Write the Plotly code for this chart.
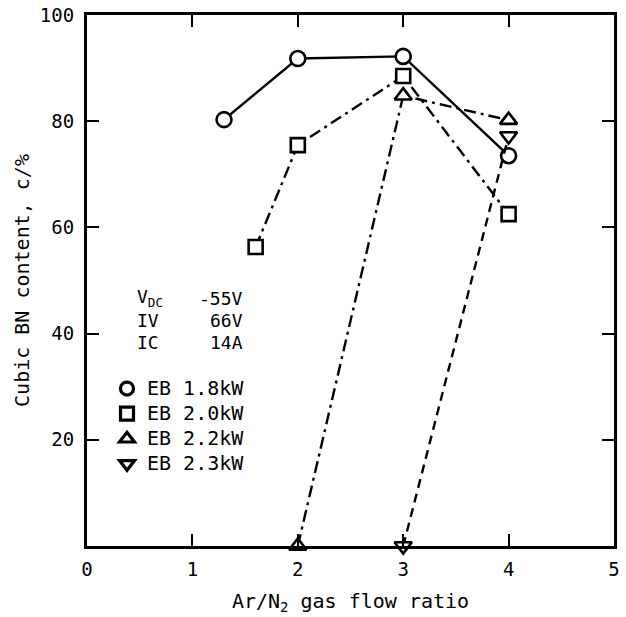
import plotly.graph_objects as go

# Ar/N2 gas flow ratio vs. cubic BN content for four electron-beam powers
ratio_18 = [1.3, 2, 3, 4]
cbn_18 = [80.3, 91.8, 92.2, 73.5]

ratio_20 = [1.6, 2, 3, 4]
cbn_20 = [56.3, 75.5, 88.5, 62.5]

ratio_22 = [2, 3, 4]
cbn_22 = [0, 84.8, 80.2]

ratio_23 = [3, 4]
cbn_23 = [0, 77.2]

series_names = ["EB 1.8kW", "EB 2.0kW", "EB 2.2kW", "EB 2.3kW"]
x_ticks = [0, 1, 2, 3, 4, 5]
y_ticks = [20, 40, 60, 80, 100]

FONT = "DejaVu Sans Mono"
BLACK = "black"

series = [
    (ratio_18, cbn_18, "circle", 15, "solid"),
    (ratio_20, cbn_20, "square", 14, "12px,5px,3px,5px"),
    (ratio_22, cbn_22, "triangle-up", 15, "12px,5px,3px,5px"),
    (ratio_23, cbn_23, "triangle-down", 15, "9px,6px"),
]

fig = go.Figure()
for (xs, ys, sym, size, dash), name in zip(series, series_names):
    fig.add_trace(go.Scatter(
        x=xs, y=ys, mode="lines+markers", showlegend=False,
        line=dict(color=BLACK, width=2.4, dash=dash),
        marker=dict(symbol=sym, size=size, color="white",
                    line=dict(color=BLACK, width=2.6)),
        cliponaxis=False,
    ))

# marker-only entries for the legend
for (xs, ys, sym, size, dash), name in zip(series, series_names):
    fig.add_trace(go.Scatter(
        x=[None], y=[None], mode="markers",
        name='<span style="font-size:20px">%s</span>' % name,
        marker=dict(symbol=sym, size=13, color="white",
                    line=dict(color=BLACK, width=3.2)),
    ))

# process conditions block
conditions = [("V<sub>DC</sub>", "-55V"), ("IV", "66V"), ("IC", "14A")]
cond_rows = [298, 320, 342]
PLOT_L, PLOT_R, PLOT_T, PLOT_B = 87, 614, 15, 546
W, H = 626, 617


def px_to_paper_y(py):
    return (PLOT_B - py) / (PLOT_B - PLOT_T)


def px_to_paper_x(px):
    return (px - PLOT_L) / (PLOT_R - PLOT_L)


for (label, value), row in zip(conditions, cond_rows):
    fig.add_annotation(x=px_to_paper_x(135), y=px_to_paper_y(row), xref="paper", yref="paper",
                       text=label, showarrow=False, xanchor="left", yanchor="middle",
                       font=dict(family=FONT, size=18, color=BLACK))
    fig.add_annotation(x=px_to_paper_x(245), y=px_to_paper_y(row), xref="paper", yref="paper",
                       text=value, showarrow=False, xanchor="right", yanchor="middle",
                       font=dict(family=FONT, size=18, color=BLACK))

axis_common = dict(
    showline=True, linecolor=BLACK, linewidth=3, mirror="ticks",
    ticks="inside", ticklen=12, tickwidth=2, tickcolor=BLACK,
    showgrid=False, zeroline=False, automargin=False,
    tickfont=dict(family=FONT, size=19, color=BLACK),
)

fig.update_xaxes(range=[0, 5], tickvals=x_ticks, ticktext=[str(v) for v in x_ticks],
                 ticklabelstandoff=4,
                 title=dict(text="Ar/N<sub>2</sub> gas flow ratio",
                            font=dict(family=FONT, size=20, color=BLACK), standoff=16),
                 **axis_common)
fig.update_yaxes(range=[0, 100], tickvals=y_ticks, ticktext=[str(v) for v in y_ticks],
                 ticklabelstandoff=6,
                 title=dict(text="Cubic BN content, c/%",
                            font=dict(family=FONT, size=20, color=BLACK), standoff=5),
                 **axis_common)

fig.update_layout(
    width=W, height=H,
    margin=dict(l=PLOT_L, r=W - PLOT_R, t=PLOT_T, b=H - PLOT_B, autoexpand=False),
    paper_bgcolor="white", plot_bgcolor="white",
    font=dict(family=FONT, size=18, color=BLACK),
    legend=dict(x=px_to_paper_x(107), y=px_to_paper_y(371), xanchor="left", yanchor="top",
                bgcolor="rgba(0,0,0,0)", borderwidth=0, tracegroupgap=0,
                font=dict(family=FONT, size=17, color=BLACK)),
)

fig.write_html("out.html")
